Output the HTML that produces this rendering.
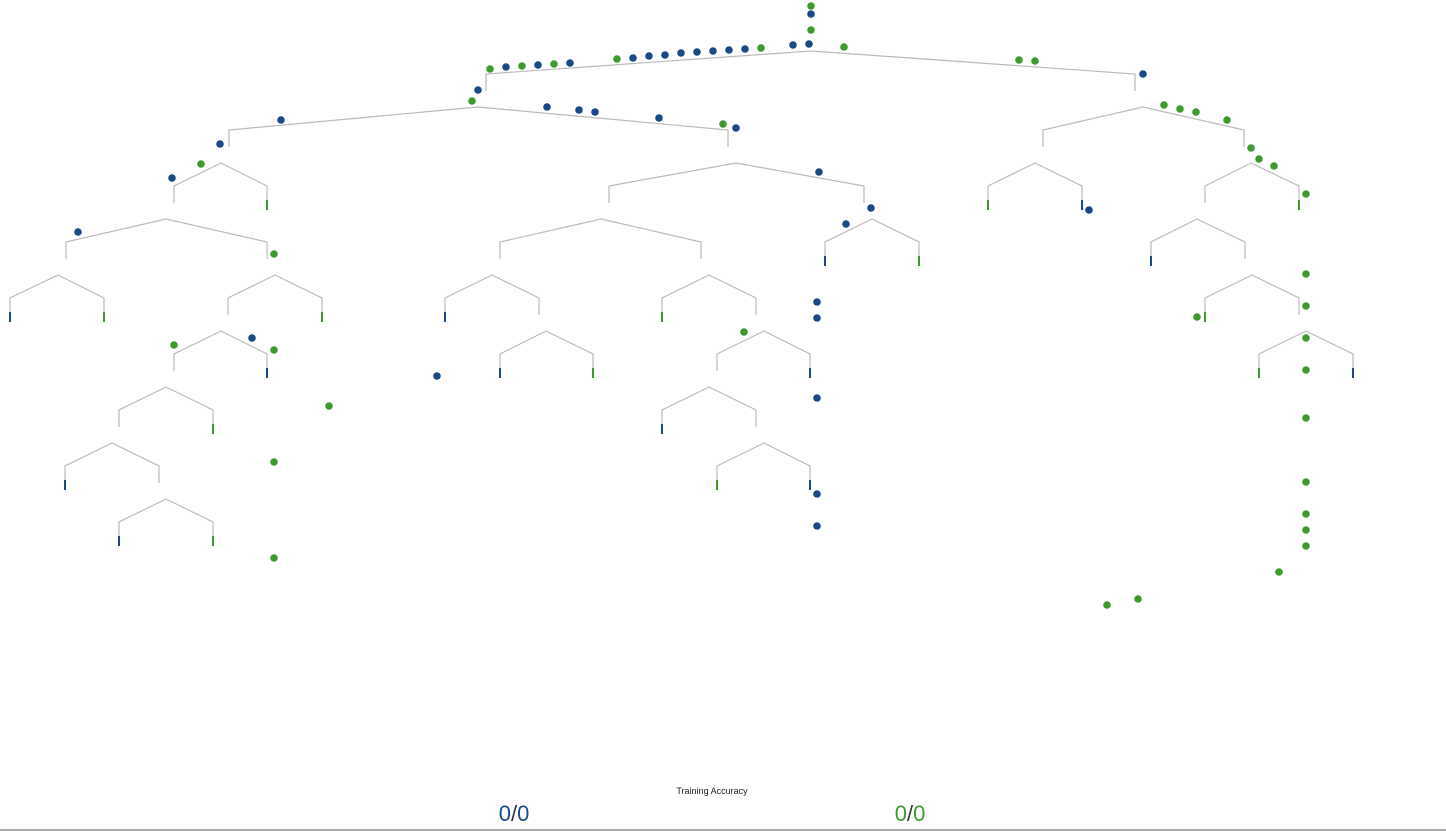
<!DOCTYPE html>
<html><head><meta charset="utf-8"><style>
html,body{margin:0;padding:0;background:#fff;width:1446px;height:833px;overflow:hidden;font-family:"Liberation Sans",sans-serif}
svg{position:absolute;left:0;top:0}
</style></head><body>
<svg id="tree" width="1446" height="833" viewBox="0 0 1446 833"></svg>
<script>
// splits: apex x, level, left child x, right child x
const splitX=[811,478,1143,221,736,1035,1251,166,601,872,1197,58,275,492,709,1252,221,546,764,1306,166,709,112,764,166];
const splitLevel=[0,1,1,2,2,2,2,3,3,3,3,4,4,4,4,4,5,5,5,5,6,6,7,7,8];
const splitLeft=[486,229,1043,174,609,988,1205,66,500,825,1151,10,228,445,662,1205,174,500,717,1259,119,662,65,717,119];
const splitRight=[1135,728,1244,267,864,1082,1299,267,701,919,1245,104,322,539,756,1299,267,593,810,1353,213,756,159,810,213];
// leaves: x, level of parent, class (0=blue,1=green)
const leafX=[267,988,1082,1299,825,919,1151,10,104,322,445,662,1205,267,500,593,810,1259,1353,213,662,65,717,810,119,213];
const leafLevel=[2,2,2,2,3,3,3,4,4,4,4,4,4,5,5,5,5,5,5,6,6,7,7,7,8,8];
const leafClass=[1,1,0,1,0,1,0,0,1,1,0,1,1,0,0,1,0,1,0,1,0,0,1,0,0,1];
// sample points
const ptX=[811,811,811,809,793,844,761,745,729,713,697,681,665,649,633,617,570,554,538,522,506,490,1019,1035,1143,478,472,547,579,595,659,723,736,281,220,201,172,1164,1180,1196,1227,1251,1259,1274,1306,819,871,846,1089,78,274,1306,1306,1197,817,817,744,252,174,274,1306,1306,437,817,329,1306,274,1306,817,817,1306,1306,1306,274,1279,1138,1107];
const ptY=[6,14,30,44,45,47,48,49,50,51,52,53,55,56,58,59,63,64,65,66,67,69,60,61,74,90,101,107,110,112,118,124,128,120,144,164,178,105,109,112,120,148,159,166,194,172,208,224,210,232,254,274,306,317,302,318,332,338,345,350,338,370,376,398,406,418,462,482,494,526,514,530,546,558,572,599,605];
const ptClass=[1,0,1,0,0,1,1,0,0,0,0,0,0,0,0,1,0,1,0,1,0,1,1,1,0,0,1,0,0,0,0,1,0,0,0,1,0,1,1,1,1,1,1,1,1,0,0,0,0,0,1,1,1,1,0,0,1,0,1,1,1,1,0,0,1,1,1,1,0,0,1,1,1,1,1,1,1];
const COLORS=['#1a4a86','#3f9a2e'];
const NS='http://www.w3.org/2000/svg';
const svg=document.getElementById('tree');
const yOf=l=>51+l*56;
function mk(t,a){const e=document.createElementNS(NS,t);for(const k in a)e.setAttribute(k,a[k]);svg.appendChild(e);return e;}
splitX.forEach((x,i)=>{
  const y=yOf(splitLevel[i]);
  const p=mk('path',{d:`M${splitLeft[i]},${y+40}V${y+23}L${x},${y}L${splitRight[i]},${y+23}V${y+40}`,fill:'none',stroke:'#bbb','stroke-width':1.2});
  
  
});
leafX.forEach((x,i)=>{
  const y=yOf(leafLevel[i]);
  const r=mk('rect',{x:x-1,y:y+37,width:2,height:10,fill:COLORS[leafClass[i]]});
  
  
});
ptX.forEach((x,i)=>{
  const c=mk('circle',{cx:x,cy:ptY[i],r:3.8,fill:COLORS[ptClass[i]]});
  
  
});
</script>
<div style="position:absolute;left:612px;top:786px;width:200px;text-align:center;font-size:9px;color:#222">Training Accuracy</div>
<div style="position:absolute;left:464px;top:801px;width:100px;text-align:center;font-size:22px;color:#1a4a86">0<span style="color:#333">/</span>0</div>
<div style="position:absolute;left:860px;top:801px;width:100px;text-align:center;font-size:22px;color:#3f9a2e">0<span style="color:#333">/</span>0</div>
<div style="position:absolute;left:0;top:829px;width:1446px;height:2px;background:#aaa"></div>
</body></html>
